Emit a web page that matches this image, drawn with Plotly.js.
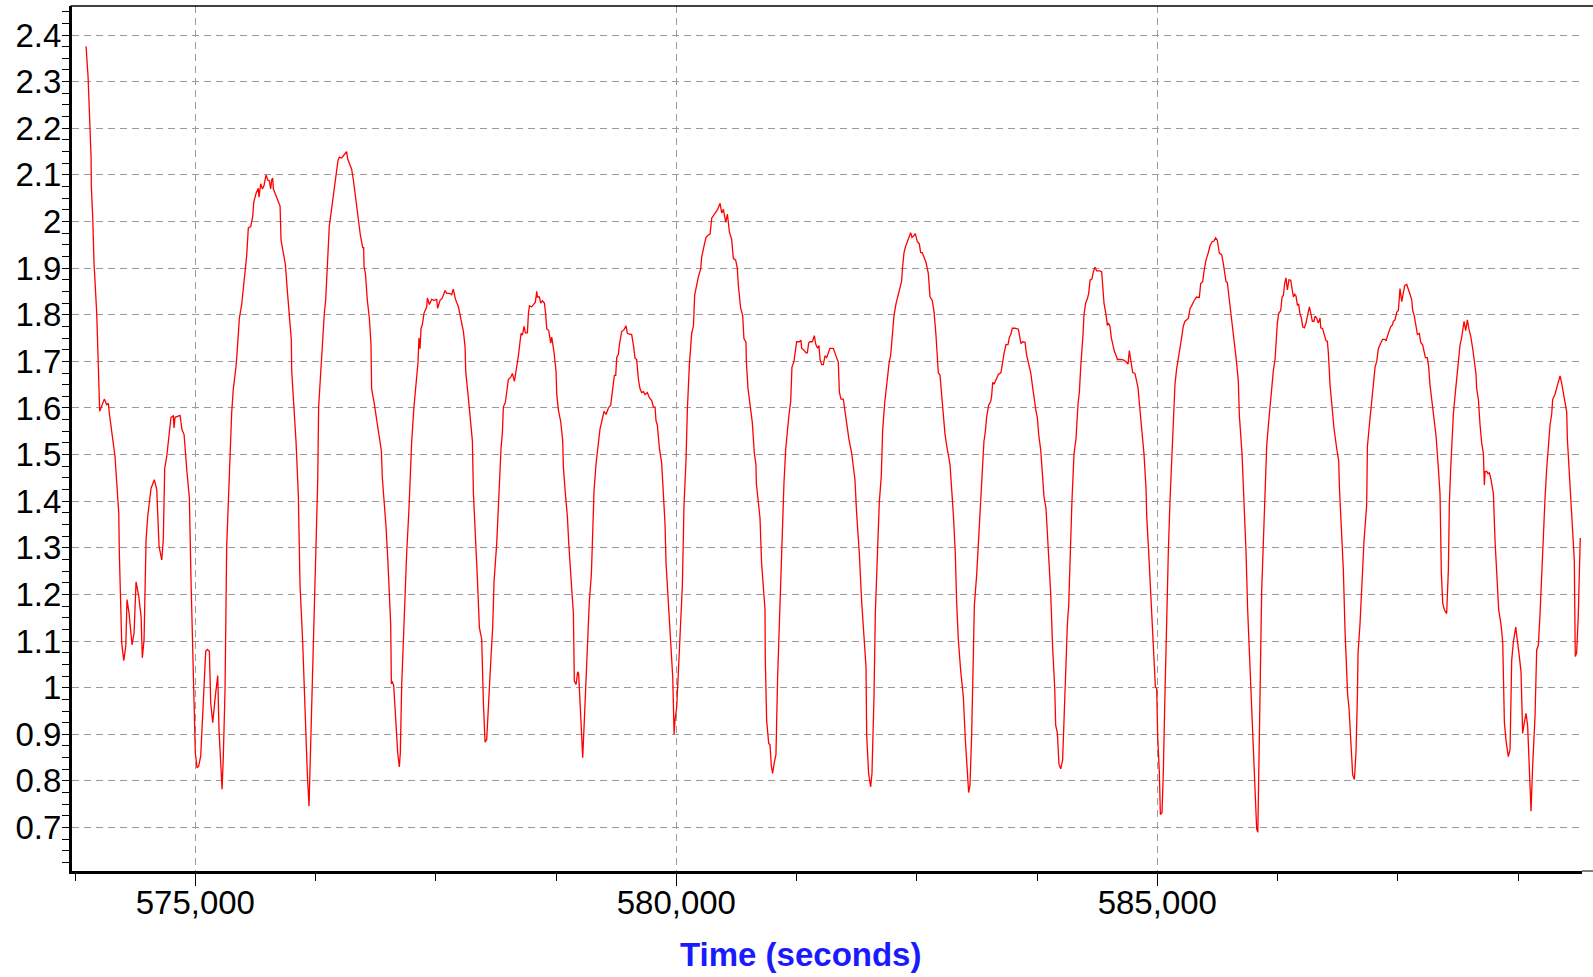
<!DOCTYPE html>
<html>
<head>
<meta charset="utf-8">
<script src="https://cdn.plot.ly/plotly-3.0.1.min.js"></script>
<style>html,body{margin:0;padding:0;background:#fff;}#chart{width:1593px;height:977px;}</style>
</head>
<body>
<div id="chart"></div>
<script>
const timeSeconds = [
573864,573885,573916,573919,573933,573947,573975,574002,574006,574054,574079,574096,574106,574165,574204,574210,574235,574256,574277,574290,
574311,574342,574363,574384,574412,574436,574449,574467,574488,574505,574540,574574,574599,574623,574651,574667,574682,574703,574747,574771,
574779,574789,574841,574862,574883,574911,574938,574955,574973,574990,575000,575018,575035,575056,575077,575108,575125,575146,575160,575181,
575208,575233,575246,575264,575278,575291,575309,575326,575343,575378,575395,575423,575437,575458,575482,575506,575524,575534,575551,575576,
575596,575607,575631,575655,575662,575680,575697,575714,575735,575752,575770,575783,575794,575804,575811,575846,575881,575891,575915,575936,
575957,575978,575998,576002,576026,576047,576071,576088,576116,576144,576165,576182,576196,576220,576237,576255,576272,576282,576303,576324,
576341,576355,576372,576383,576393,576407,576424,576445,576463,576483,576497,576521,576539,576556,576573,576584,576601,576625,576643,576660,
576684,576705,576716,576740,576750,576754,576768,576788,576809,576826,576833,576858,576885,576913,576934,576944,576962,576982,577000,577017,
577031,577038,577045,577062,577083,577104,577121,577131,577145,577163,577180,577197,577221,577232,577249,577273,577301,577315,577325,577336,
577346,577360,577377,577395,577405,577412,577433,577457,577481,577509,577519,577544,577568,577596,577613,577641,577665,577682,577703,577735,
577762,577787,577804,577811,577839,577863,577880,577891,577911,577932,577953,577977,577995,578012,578029,578046,578071,578091,578105,578133,
578150,578168,578178,578192,578202,578223,578237,578254,578279,578296,578317,578341,578358,578376,578386,578400,578417,578431,578452,578462,
578473,578497,578514,578535,578549,578556,578577,578590,578608,578629,578642,578653,578674,578694,578705,578729,578750,578757,578774,578798,
578819,578826,578847,578868,578882,578895,578916,578930,578940,578958,578975,578985,579006,579027,579041,579062,579079,579096,579117,579128,
579145,579166,579183,579207,579225,579249,579270,579294,579318,579329,579346,579356,579370,579381,579398,579408,579432,579457,579478,579491,
579519,579536,579554,579571,579588,579606,579623,579640,579658,579675,579699,579720,579744,579762,579779,579789,579803,579824,579848,579866,
579883,579893,579918,579942,579963,579977,579987,580004,580021,580039,580063,580080,580101,580115,580136,580160,580178,580191,580212,580229,
580254,580264,580288,580309,580333,580351,580368,580385,580410,580430,580455,580472,580489,580514,580531,580552,580575,580593,580617,580634,
580645,580669,580690,580703,580724,580728,580745,580759,580790,580811,580828,580832,580852,580870,580887,580908,580922,580925,580939,580960,
580974,580988,581001,581019,581036,581053,581071,581088,581105,581119,581137,581154,581171,581189,581202,581223,581237,581251,581279,581296,
581303,581327,581348,581362,581376,581390,581414,581424,581435,581449,581469,581483,581494,581511,581528,581546,581563,581580,581597,581632,
581660,581684,581695,581712,581736,581753,581771,581795,581823,581847,581857,581875,581902,581927,581951,581972,581979,581999,582020,582034,
582055,582069,582090,582110,582131,582145,582166,582187,582214,582228,582249,582263,582284,582297,582325,582342,582353,582367,582381,582401,
582422,582436,582450,582464,582485,582505,582526,582540,582557,582575,582596,582620,582637,582661,582679,582699,582724,582741,582769,582793,
582810,582845,582880,582900,582914,582932,582956,582984,583004,583022,583039,583053,583070,583087,583098,583122,583143,583164,583185,583198,
583212,583226,583247,583268,583278,583289,583303,583323,583348,583375,583393,583407,583427,583448,583462,583479,583493,583521,583556,583573,
583583,583601,583625,583642,583663,583684,583705,583718,583739,583753,583767,583788,583808,583822,583843,583857,583878,583892,583912,583933,
583944,583961,583978,583996,584016,584034,584051,584065,584079,584093,584113,584134,584155,584176,584190,584203,584217,584228,584238,584255,
584273,584287,584301,584321,584335,584352,584370,584404,584422,584432,584446,584467,584481,584491,584508,584522,584536,584553,584571,584585,
584612,584647,584675,584696,584709,584723,584744,584768,584786,584800,584810,584820,584841,584862,584883,584890,584910,584931,584952,584969,
584980,584994,585004,585021,585032,585049,585063,585077,585091,585098,585115,585132,585149,585167,585184,585201,585229,585253,585271,585288,
585323,585340,585357,585382,585409,585437,585451,585472,585485,585506,585530,585548,585572,585590,585607,585624,585645,585669,585687,585714,
585728,585749,585773,585797,585818,585842,585853,585881,585901,585922,585939,585964,585985,586009,586033,586045,586068,586085,586103,586120,
586137,586155,586172,586189,586207,586224,586234,586248,586262,586283,586297,586311,586324,586338,586352,586369,586387,586404,586415,586428,
586442,586456,586470,586484,586498,586512,586529,586546,586563,586581,586598,586612,586629,586640,586657,586674,586692,586699,586719,586737,
586754,586768,586778,586796,586813,586837,586865,586886,586893,586917,586934,586952,586969,586979,586993,587010,587031,587049,587066,587080,
587087,587107,587125,587149,587177,587184,587205,587229,587253,587264,587281,587298,587322,587343,587367,587378,587402,587426,587444,587454,
587471,587489,587506,587523,587541,587558,587572,587593,587610,587627,587645,587655,587672,587690,587704,587724,587738,587759,587776,587787,
587807,587821,587835,587856,587877,587898,587922,587939,587953,587967,587984,588008,588026,588036,588050,588064,588078,588095,588112,588130,
588147,588164,588182,588189,588206,588223,588241,588258,588279,588293,588313,588320,588338,588355,588372,588390,588400,588407,588424,588438,
588452,588469,588494,588511,588535,588549,588573,588591,588608,588625,588649,588667,588684,588701,588726,588743,588764,588781,588788,588798,
588816,588833,588850,588868,588885,588902,588927,588944,588961,588979,588996,589013,589031,589048,589065,589083,589100,589110,589135,589162,
589187,589204,589221,589238,589256,589263,589277,589290,589317,589335,589345,589359,589376,589387,589397
];
const signalValues = [
2.376,2.311,2.139,2.075,2.011,1.911,1.803,1.643,1.593,1.619,1.607,1.61,1.589,1.496,1.375,1.289,1.096,1.058,1.089,1.189,
1.16,1.092,1.117,1.227,1.196,1.153,1.064,1.103,1.318,1.367,1.428,1.446,1.425,1.303,1.274,1.318,1.471,1.496,1.58,1.583,
1.557,1.58,1.584,1.553,1.543,1.468,1.407,1.232,1.096,0.967,0.86,0.828,0.832,0.853,0.946,1.078,1.082,1.078,0.967,0.925,
0.982,1.026,0.91,0.839,0.782,0.853,0.997,1.303,1.41,1.59,1.641,1.689,1.727,1.793,1.822,1.865,1.908,1.927,1.986,1.989,
2.010,2.041,2.06,2.071,2.052,2.081,2.07,2.077,2.1,2.089,2.087,2.07,2.089,2.093,2.07,2.05,2.033,1.96,1.927,1.908,
1.85,1.803,1.746,1.679,1.603,1.527,1.412,1.222,1.098,0.908,0.812,0.746,0.86,1.07,1.212,1.365,1.441,1.603,1.679,1.755,
1.803,1.831,1.908,1.979,1.991,2.012,2.041,2.074,2.098,2.131,2.138,2.136,2.141,2.146,2.15,2.134,2.125,2.112,2.089,2.06,
2.022,1.993,1.97,1.944,1.944,1.903,1.889,1.831,1.793,1.736,1.641,1.612,1.574,1.536,1.508,1.45,1.403,1.346,1.279,1.203,
1.136,1.008,1.014,1.005,0.936,0.86,0.83,0.86,1.003,1.117,1.222,1.289,1.384,1.46,1.527,1.603,1.66,1.698,1.75,1.727,
1.77,1.779,1.803,1.812,1.817,1.836,1.822,1.833,1.831,1.833,1.814,1.831,1.836,1.852,1.846,1.846,1.843,1.855,1.834,1.817,
1.793,1.764,1.731,1.678,1.62,1.571,1.53,1.416,1.334,1.235,1.129,1.104,0.965,0.883,0.889,0.965,1.055,1.129,1.227,1.309,
1.399,1.465,1.514,1.547,1.602,1.612,1.637,1.661,1.666,1.674,1.657,1.686,1.711,1.743,1.76,1.756,1.775,1.761,1.761,1.801,
1.819,1.817,1.821,1.827,1.85,1.838,1.838,1.825,1.83,1.825,1.801,1.77,1.766,1.739,1.752,1.719,1.678,1.629,1.596,1.571,
1.53,1.473,1.416,1.366,1.309,1.26,1.202,1.161,1.014,1.007,1.034,1.03,0.924,0.85,0.916,1.022,1.104,1.186,1.243,1.301,
1.424,1.481,1.514,1.555,1.571,1.593,1.586,1.6,1.606,1.629,1.653,1.67,1.67,1.709,1.715,1.735,1.764,1.768,1.776,1.76,
1.758,1.758,1.735,1.707,1.704,1.661,1.641,1.633,1.635,1.629,1.633,1.622,1.616,1.602,1.602,1.573,1.563,1.514,1.481,1.407,
1.35,1.268,1.17,1.088,1.022,0.9,0.932,0.957,1.039,1.104,1.219,1.391,1.489,1.596,1.694,1.76,1.776,1.842,1.865,1.881,
1.899,1.924,1.947,1.966,1.971,1.973,2.007,2.012,2.018,2.026,2.039,2.018,2.026,1.998,2.016,1.977,1.962,1.921,1.917,1.9,
1.863,1.814,1.798,1.749,1.741,1.7,1.642,1.618,1.569,1.503,1.479,1.438,1.397,1.364,1.266,1.192,1.168,1.061,0.93,0.881,
0.877,0.832,0.816,0.84,0.857,1.02,1.143,1.258,1.348,1.438,1.511,1.552,1.585,1.614,1.687,1.7,1.72,1.742,1.742,1.745,
1.728,1.724,1.718,1.718,1.739,1.742,1.742,1.749,1.755,1.737,1.728,1.734,1.704,1.693,1.693,1.712,1.708,1.718,1.728,1.728,
1.712,1.698,1.634,1.619,1.619,1.593,1.561,1.532,1.503,1.454,1.446,1.372,1.29,1.184,1.102,1.045,0.898,0.816,0.787,0.816,
0.98,1.16,1.282,1.397,1.454,1.552,1.61,1.651,1.7,1.712,1.773,1.798,1.824,1.835,1.859,1.872,1.904,1.933,1.945,1.957,
1.966,1.976,1.966,1.968,1.974,1.957,1.952,1.933,1.933,1.921,1.912,1.888,1.839,1.83,1.806,1.757,1.675,1.671,1.601,1.544,
1.52,1.479,1.372,1.29,1.184,1.102,1.037,0.98,0.89,0.816,0.775,0.791,0.898,1.061,1.176,1.241,1.323,1.405,1.471,1.528,
1.548,1.581,1.606,1.614,1.626,1.655,1.651,1.661,1.672,1.676,1.701,1.717,1.736,1.736,1.751,1.759,1.771,1.771,1.769,1.751,
1.738,1.742,1.741,1.713,1.692,1.676,1.643,1.622,1.593,1.58,1.543,1.51,1.435,1.41,1.385,1.335,1.26,1.202,1.086,1.002,
0.919,0.903,0.836,0.826,0.845,0.961,1.044,1.135,1.177,1.277,1.401,1.501,1.534,1.609,1.634,1.684,1.717,1.759,1.8,1.825,
1.834,1.846,1.874,1.877,1.892,1.902,1.894,1.894,1.892,1.867,1.825,1.8,1.777,1.782,1.776,1.751,1.734,1.722,1.713,1.704,
1.704,1.703,1.699,1.694,1.723,1.705,1.676,1.674,1.659,1.643,1.618,1.593,1.559,1.501,1.426,1.368,1.293,1.21,1.127,1.044,
1.002,0.998,0.894,0.82,0.728,0.732,0.82,0.961,1.086,1.185,1.293,1.401,1.476,1.543,1.651,1.684,1.726,1.751,1.776,1.786,
1.792,1.813,1.819,1.83,1.838,1.837,1.867,1.871,1.892,1.917,1.933,1.948,1.957,1.958,1.965,1.96,1.932,1.929,1.909,1.871,
1.869,1.834,1.792,1.751,1.709,1.659,1.584,1.501,1.401,1.293,1.169,1.044,0.919,0.795,0.697,0.69,1.003,1.206,1.315,1.424,
1.517,1.564,1.603,1.657,1.681,1.704,1.751,1.782,1.803,1.809,1.838,1.842,1.867,1.879,1.853,1.875,1.874,1.846,1.838,1.844,
1.84,1.821,1.822,1.801,1.793,1.774,1.772,1.782,1.797,1.817,1.801,1.786,1.786,1.797,1.793,1.782,1.793,1.772,1.77,1.758,
1.744,1.743,1.719,1.649,1.603,1.556,1.513,1.486,1.431,1.338,1.253,1.12,1.019,0.984,0.957,0.879,0.813,0.803,0.863,0.98,
1.074,1.136,1.214,1.315,1.393,1.517,1.564,1.611,1.665,1.688,1.7,1.727,1.739,1.747,1.747,1.744,1.76,1.774,1.778,1.786,
1.789,1.805,1.809,1.856,1.828,1.844,1.863,1.865,1.852,1.844,1.832,1.809,1.797,1.778,1.758,1.76,1.741,1.735,1.721,1.708,
1.708,1.688,1.649,1.611,1.579,1.54,1.47,1.416,1.245,1.182,1.167,1.159,1.253,1.393,1.47,1.54,1.587,1.626,1.665,1.704,
1.735,1.751,1.774,1.786,1.766,1.789,1.768,1.754,1.727,1.704,1.673,1.642,1.618,1.564,1.525,1.502,1.435,1.463,1.464,1.459,
1.461,1.447,1.416,1.315,1.214,1.167,1.136,1.097,0.926,0.887,0.852,0.867,1.058,1.097,1.13,1.105,1.066,1.034,0.941,0.902,
0.926,0.945,0.918,0.84,0.735,0.832,0.941,1.081,1.091,1.159,1.253,1.33,1.408,1.47,1.525,1.564,1.587,1.618,1.63,1.649,
1.669,1.653,1.634,1.611,1.591,1.533,1.478,1.424,1.331,1.274,1.067,1.074,1.153,1.246,1.321
];
const xAxisTitle = 'Time (seconds)';

const fontFamily = '"Liberation Sans", Arial, sans-serif';
const trace = {
  x: timeSeconds, y: signalValues, type: 'scatter', mode: 'lines',
  line: {color: '#ff0000', width: 1.3}, hoverinfo: 'skip', showlegend: false
};
const layout = {
  width: 1593, height: 977,
  margin: {l: 72, r: 11, t: 6, b: 105.5},
  paper_bgcolor: '#ffffff', plot_bgcolor: '#ffffff',
  showlegend: false,
  xaxis: {
    range: [573718, 589415], tick0: 0, dtick: 5000, tickformat: ',d',
    ticks: 'outside', ticklen: 12, tickwidth: 1, tickcolor: '#000',
    ticklabelstandoff: -12,
    showline: true, linecolor: '#000', linewidth: 3,
    showgrid: true, gridcolor: '#9a9a9a', gridwidth: 1, griddash: '7px,5px',
    zeroline: false,
    tickfont: {family: fontFamily, size: 33, color: '#000'},
    minor: {dtick: 1250, ticks: 'outside', ticklen: 7, tickwidth: 1, tickcolor: '#000', showgrid: false}
  },
  yaxis: {
    range: [0.6068, 2.4622], tick0: 0, dtick: 0.1,
    ticks: 'outside', ticklen: 7, tickwidth: 1, tickcolor: '#000',
    ticklabelstandoff: -6,
    showline: true, linecolor: '#000', linewidth: 3,
    showgrid: true, gridcolor: '#9a9a9a', gridwidth: 1, griddash: '7px,5px',
    zeroline: false,
    tickfont: {family: fontFamily, size: 33, color: '#000'},
    minor: {dtick: 0.025, ticks: 'outside', ticklen: 7, tickwidth: 1, tickcolor: '#000', showgrid: false}
  },
  shapes: [
    {type: 'line', xref: 'paper', yref: 'paper', x0: -0.001, x1: 1.0073, y0: 1, y1: 1, line: {color: '#000', width: 1.5}},
    {type: 'line', xref: 'paper', yref: 'paper', x0: 1, x1: 1.0073, y0: 0, y1: 0, line: {color: '#000', width: 1}}
  ],
  annotations: [{
    text: '<b>' + xAxisTitle + '</b>', xref: 'paper', yref: 'paper',
    x: 0.4826, y: -0.0965, xanchor: 'center', yanchor: 'middle', showarrow: false,
    font: {family: fontFamily, size: 33, color: '#1a1aff'}
  }]
};
Plotly.newPlot('chart', [trace], layout, {staticPlot: true, displayModeBar: false});
</script>
</body>
</html>
